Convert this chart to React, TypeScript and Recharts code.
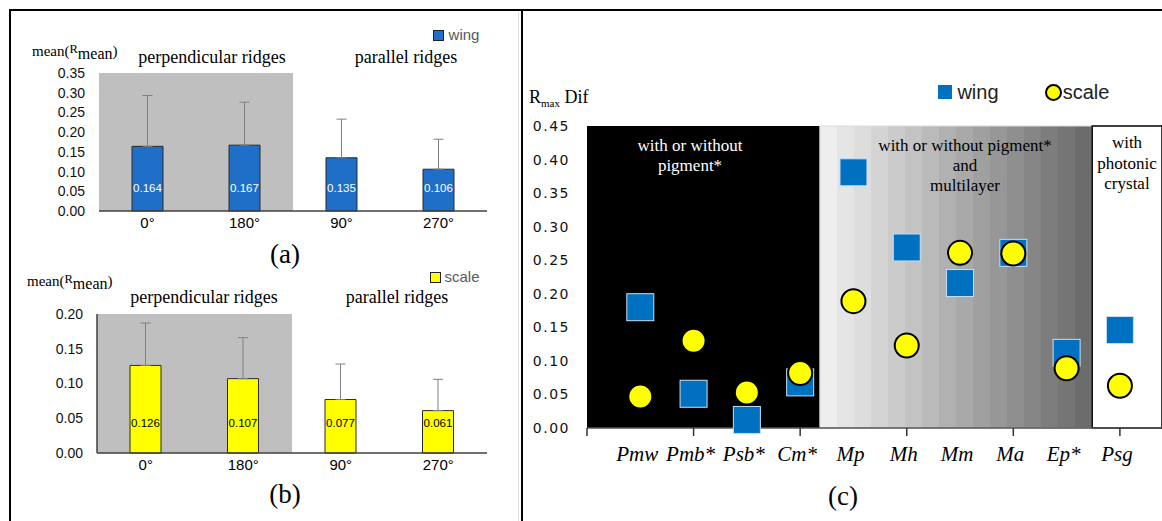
import React from 'react';
import { BarChart, Bar, XAxis, YAxis, ErrorBar, LabelList, ReferenceArea, ScatterChart, Scatter } from 'recharts';

// (a) and (b): mean reflectance by rotation angle
const angles = ['0°', '180°', '90°', '270°'];
const wingMeans = [0.164, 0.167, 0.135, 0.106];
const wingSd = [0.129, 0.109, 0.098, 0.076];
const scaleMeans = [0.126, 0.107, 0.077, 0.061];
const scaleSd = [0.061, 0.059, 0.051, 0.045];
const wingTicks = [0, 0.05, 0.1, 0.15, 0.2, 0.25, 0.3, 0.35];
const scaleTicks = [0, 0.05, 0.1, 0.15, 0.2];

// (c): Rmax difference per species
const species = ['Pmw', 'Pmb*', 'Psb*', 'Cm*', 'Mp', 'Mh', 'Mm', 'Ma', 'Ep*', 'Psg'];
const wingDif = [0.18, 0.051, 0.012, 0.068, 0.381, 0.269, 0.216, 0.261, 0.112, 0.146];
const scaleDif = [0.047, 0.13, 0.053, 0.082, 0.189, 0.123, 0.261, 0.26, 0.089, 0.063];
const difTicks = [0, 0.05, 0.1, 0.15, 0.2, 0.25, 0.3, 0.35, 0.4, 0.45];
const speciesTicks = [0, 1, 2, 3, 4, 5, 6, 7, 8, 9, 10];

const SERIF = '"Liberation Serif", "DejaVu Serif", serif';
const SANS = '"Liberation Sans", Arial, sans-serif';

const wingData = angles.map((a, i) => ({ angle: a, mean: wingMeans[i], err: [0, wingSd[i]] }));
const scaleData = angles.map((a, i) => ({ angle: a, mean: scaleMeans[i], err: [0, scaleSd[i]] }));
const wingPts = species.map((s, i) => ({ x: i + 1, y: wingDif[i], name: s }));
const scalePts = species.map((s, i) => ({ x: i + 1, y: scaleDif[i], name: s }));

const bandCount = 16;
const bandStops = Array.from({ length: bandCount }, (_, i) => {
  const g = Math.round(238 - (238 - 108) * i / (bandCount - 1));
  const c = `rgb(${g},${g},${g})`;
  return [
    <stop key={`a${i}`} offset={i / bandCount} stopColor={c} />,
    <stop key={`b${i}`} offset={(i + 1) / bandCount} stopColor={c} />,
  ];
}).flat();

function Txt({ x, y, size, color = '#000', family = SERIF, lh, children, style }: any) {
  return (
    <div style={{
      position: 'absolute', left: x, top: y, transform: 'translate(-50%, -50%)',
      fontSize: size, color, fontFamily: family, whiteSpace: 'nowrap', textAlign: 'center',
      lineHeight: lh ? `${lh}px` : 1.1, ...style,
    }}>{children}</div>
  );
}

function MeanLabel({ x, y }: any) {
  return (
    <div style={{ position: 'absolute', left: x, top: y, transform: 'translateY(-50%)', fontFamily: SERIF, fontSize: 15, whiteSpace: 'nowrap' }}>
      mean(<span style={{ fontSize: 12.5, position: 'relative', top: -3 }}>R</span>
      <span style={{ fontSize: 16, position: 'relative', top: 3 }}>mean</span>)
    </div>
  );
}

function MeanBars({ data, fill, labelColor, ticks, max, top, bottom, yLine, labelOffset }: any) {
  const renderLabel = (p: any) => (
    <text x={Number(p.x) + Number(p.width) / 2} y={Number(p.y) + Number(p.height) - labelOffset}
      textAnchor="middle" dominantBaseline="middle" fill={labelColor} fontSize={11.5} fontFamily={SANS}>
      {Number(p.value).toFixed(3)}
    </text>
  );
  return (
    <BarChart width={520} height={250} data={data} margin={{ top, right: 33, bottom, left: 0 }}>
      <ReferenceArea x1="0°" x2="180°" y1={0} y2={max} fill="#BFBFBF" fillOpacity={1} stroke="none" />
      <XAxis dataKey="angle" height={30} axisLine={{ stroke: '#404040', strokeWidth: 1.5 }} tickLine={false}
        tickSize={4} tickMargin={2} tick={{ fill: '#000', fontSize: 15, fontFamily: SANS }} />
      <YAxis type="number" domain={[0, max]} ticks={ticks} width={yLine ? 97 : 99} interval={0}
        axisLine={yLine ? { stroke: '#404040', strokeWidth: 1.5 } : false} tickLine={false} tickSize={0} tickMargin={14}
        tick={{ fill: '#111', fontSize: 14, fontFamily: SANS }} tickFormatter={(v: number) => v.toFixed(2)} />
      <Bar dataKey="mean" barSize={31} fill={fill} stroke="#2b2b2b" strokeWidth={1} isAnimationActive={false}>
        <ErrorBar dataKey="err" width={5} stroke="#808080" strokeWidth={1} direction="y" />
        <LabelList dataKey="mean" content={renderLabel} />
      </Bar>
    </BarChart>
  );
}

function SpeciesTick({ x, y, payload }: any) {
  const v = Math.round(Number(payload.value));
  return (
    <g>
      {v % 2 === 0 && <line x1={x} x2={x} y1={y} y2={y + 8} stroke="#333" strokeWidth={1.5} />}
      {v >= 1 && (
        <text x={x - 3} y={y + 33} textAnchor="middle" fontStyle="italic" fontFamily={SERIF} fontSize={21} fill="#000">
          {species[v - 1]}
        </text>
      )}
    </g>
  );
}

const squareShape = (p: any) => (
  <rect x={p.cx - 13.5} y={p.cy - 13.5} width={27} height={27} fill="#0070C0" stroke="#c9dff2" strokeWidth={1} />
);
const circleShape = (p: any) => (
  <circle cx={p.cx} cy={p.cy} r={12} fill="#FFFF00" stroke="#000" strokeWidth={2} />
);

export default function App() {
  return (
    <div style={{ position: 'absolute', left: 0, top: 0, width: 1162, height: 521, background: '#fff', overflow: 'hidden', fontFamily: SANS }}>
      {/* frame */}
      <div style={{ position: 'absolute', left: 9, top: 9, width: 1153, height: 2, background: '#000' }} />
      <div style={{ position: 'absolute', left: 9, top: 9, width: 2, height: 512, background: '#000' }} />
      <div style={{ position: 'absolute', left: 521, top: 9, width: 2, height: 512, background: '#000' }} />
      <div style={{ position: 'absolute', left: 518, top: 12, width: 1, height: 509, background: '#e0e0e0' }} />

      {/* (a) wing */}
      <div style={{ position: 'absolute', left: 0, top: 0 }}>
        <MeanBars data={wingData} fill="#1F6FC8" labelColor="#fff" ticks={wingTicks} max={0.35} top={73} bottom={9} yLine={false} labelOffset={22} />
      </div>
      <MeanLabel x={32} y={51} />
      <Txt x={212} y={58} size={18}>perpendicular ridges</Txt>
      <Txt x={406} y={58} size={18}>parallel ridges</Txt>
      <div style={{ position: 'absolute', left: 433, top: 30, width: 9, height: 9, background: '#1F6FC8', border: '1px solid #222' }} />
      <Txt x={464} y={35} size={15} color="#595959" family={SANS}>wing</Txt>
      <Txt x={285} y={255} size={27}>(a)</Txt>

      {/* (b) scale */}
      <div style={{ position: 'absolute', left: 0, top: 260 }}>
        <MeanBars data={scaleData} fill="#FFFF00" labelColor="#000" ticks={scaleTicks} max={0.2} top={54} bottom={27} yLine={true} labelOffset={29} />
      </div>
      <MeanLabel x={27} y={281} />
      <Txt x={204} y={298} size={18}>perpendicular ridges</Txt>
      <Txt x={397} y={298} size={18}>parallel ridges</Txt>
      <div style={{ position: 'absolute', left: 430, top: 272, width: 9, height: 9, background: '#FFFF00', border: '1px solid #222' }} />
      <Txt x={462} y={277} size={15} color="#595959" family={SANS}>scale</Txt>
      <Txt x={285} y={495} size={27}>(b)</Txt>

      {/* (c) Rmax difference */}
      <div style={{ position: 'absolute', left: 520, top: 0 }}>
        <ScatterChart width={642} height={521} margin={{ top: 126, right: 0, bottom: 33, left: 0 }}>
          <defs>
            <linearGradient id="bandFill" x1="0" y1="0" x2="1" y2="0">{bandStops}</linearGradient>
          </defs>
          <ReferenceArea x1={0} x2={4.37} y1={0} y2={0.45} fill="#000" fillOpacity={1} stroke="none" />
          <ReferenceArea x1={4.37} x2={9.48} y1={0} y2={0.45} fill="url(#bandFill)" fillOpacity={1} stroke="#d9d9d9" />
          <ReferenceArea x1={9.48} x2={10.79} y1={0} y2={0.45} fill="#fff" fillOpacity={1} stroke="#000" strokeWidth={1.5} />
          <XAxis type="number" dataKey="x" domain={[0, 10.79]} allowDataOverflow ticks={speciesTicks} interval={0}
            height={60} axisLine={{ stroke: '#555', strokeWidth: 1.5 }} tickLine={false} tickSize={0} tickMargin={0}
            tick={<SpeciesTick />} />
          <YAxis type="number" dataKey="y" domain={[0, 0.45]} ticks={difTicks} interval={0} width={67}
            axisLine={false} tickLine={false} tickSize={0} tickMargin={17}
            tick={{ fill: '#111', fontSize: 14, fontFamily: '"DejaVu Sans", sans-serif', letterSpacing: 1.5 }}
            tickFormatter={(v: number) => v.toFixed(2)} />
          <Scatter name="wing" data={wingPts} shape={squareShape} isAnimationActive={false} />
          <Scatter name="scale" data={scalePts} shape={circleShape} isAnimationActive={false} />
        </ScatterChart>
      </div>
      <div style={{ position: 'absolute', left: 529, top: 97, transform: 'translateY(-50%)', fontFamily: SERIF, fontSize: 18, whiteSpace: 'nowrap' }}>
        R<span style={{ fontSize: 11, position: 'relative', top: 4 }}>max</span> Dif
      </div>
      <div style={{ position: 'absolute', left: 938, top: 85, width: 14, height: 14, background: '#0070C0' }} />
      <Txt x={978} y={92} size={20} color="#222" family={SANS}>wing</Txt>
      <div style={{ position: 'absolute', left: 1045, top: 84, width: 13, height: 13, borderRadius: '50%', background: '#FFFF00', border: '2px solid #000' }} />
      <Txt x={1086} y={92} size={20} color="#222" family={SANS}>scale</Txt>
      <Txt x={690} y={156} size={17} color="#fff" lh={20}>with or without<br />pigment*</Txt>
      <Txt x={965} y={166} size={17} lh={20}>with or without pigment*<br />and<br />multilayer</Txt>
      <Txt x={1127} y={164} size={17} lh={20.5}>with<br />photonic<br />crystal</Txt>
      <Txt x={843} y={497} size={27}>(c)</Txt>
    </div>
  );
}
